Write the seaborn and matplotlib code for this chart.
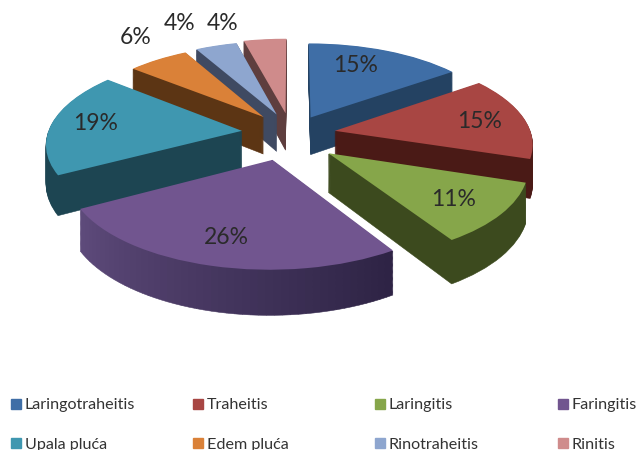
import numpy as np
import matplotlib
matplotlib.use("Agg")
import matplotlib.pyplot as plt
from matplotlib.colors import to_rgb
from matplotlib.lines import Line2D
from matplotlib.patches import Wedge
from matplotlib.transforms import Transform
import seaborn as sns

# data
categories = ["Laringotraheitis", "Traheitis", "Laringitis", "Faringitis",
              "Upala pluća", "Edem pluća", "Rinotraheitis", "Rinitis"]
values = [15, 15, 11, 26, 19, 6, 4, 4]

# style
top_colors = ["#3f6ea6", "#a84643", "#86a64a", "#71558f",
              "#3f97b0", "#da8138", "#8ea6cf", "#cf8b8b"]
wall_from = ["#244262", "#4a1a16", "#3c4a1e", "#5f4b7c",
             "#1d4552", "#5c3514", "#3f4a62", "#5e3e3e"]
wall_to = ["#244262", "#4a1a16", "#3c4a1e", "#2d2344",
           "#1d4552", "#5c3514", "#3f4a62", "#5e3e3e"]
explode = [0.20, 0.22, 0.27, 0.30, 0.26, 0.24, 0.23, 0.23]
nudge_u = [0.0, -0.005, -0.04, -0.025, 0.0, 0.0, 0.0, -0.01]
nudge_v = [0.0, -0.01, -0.055, 0.0, 0.0, 0.0, 0.0, 0.0]
radii = [0.98, 0.99, 0.97, 0.99, 0.98, 0.96, 0.98, 1.0]
draw_rank = [4, 5, 6, 7, 3, 2, 1, 0]
label_xy = [(356, 66), (480, 122), (454, 200), (226, 237),
            (96, 124), (136, 37), (180, 24), (223, 24)]
legend_xy = [(10, 398), (192, 398), (374, 398), (557, 398)]

CX, CY, A, B, K, DEPTH = 293, 133, 198, 89, 0.13, 38


class Perspective(Transform):
    input_dims = output_dims = 2
    is_separable = False
    has_inverse = False

    def __init__(self, z=0.0):
        super().__init__()
        self.z = z

    def transform_non_affine(self, xy):
        xy = np.asarray(xy, dtype=float)
        s = 1.0 / (1.0 + K * xy[:, 1])
        return np.column_stack((CX + A * xy[:, 0] * s,
                                CY - B * xy[:, 1] * s + self.z * s))


sns.set_theme(style="white")
plt.rcParams["font.family"] = ["Lato", "DejaVu Sans"]
palette = sns.color_palette(top_colors)

fig = plt.figure(figsize=(6.38, 4.5), dpi=100)
ax = fig.add_axes([0, 0, 1, 1])

wedges, _ = ax.pie(values, explode=explode, colors=palette, startangle=90,
                   counterclock=False, radius=1.0,
                   wedgeprops=dict(linewidth=0))
ax.set_aspect("auto")
ax.set_xlim(0, 638)
ax.set_ylim(450, 0)
ax.axis("off")

top_tr = Perspective(0) + ax.transData
for i, w in enumerate(wedges):
    w.set_center((w.center[0] + nudge_u[i], w.center[1] + nudge_v[i]))
    w.set_radius(radii[i])
    w.set_transform(top_tr)
    w.set_zorder(draw_rank[i] * 10 + 5)
    w.set_clip_on(False)
    c0, c1 = np.array(to_rgb(wall_from[i])), np.array(to_rgb(wall_to[i]))
    n = 48 if wall_from[i] != wall_to[i] else 1
    edges = np.linspace(w.theta1, w.theta2, n + 1)
    for z in np.arange(DEPTH, 0, -1.0):
        tr = Perspective(float(z)) + ax.transData
        for j in range(n):
            f = (j + 0.5) / n
            col = c0 * (1 - f) + c1 * f
            p = Wedge(w.center, w.r, edges[j], edges[j + 1], facecolor=col,
                      edgecolor=col, linewidth=0.4,
                      zorder=draw_rank[i] * 10 + 1)
            ax.add_patch(p)
            p.set_transform(tr)

for v, (x, y) in zip(values, label_xy):
    ax.text(x, y, f"{v}%", ha="center", va="center", fontsize=16.5,
            color="#2a2a2a", zorder=200)

for k, (x, y) in enumerate(legend_xy):
    idx = [k, k + 4]
    handles = [Line2D([], [], linestyle="none", marker="s", markersize=6.5,
                      color=palette[m], label=categories[m]) for m in idx]
    fig.legend(handles=handles, loc="upper left", frameon=False,
               bbox_to_anchor=(x / 638, 1 - y / 450),
               bbox_transform=fig.transFigure, borderpad=0, borderaxespad=0,
               handlelength=0.8, handletextpad=0.12, labelspacing=1.55,
               fontsize=11.6, labelcolor="#333333")

fig.savefig("out.png", dpi=100)
